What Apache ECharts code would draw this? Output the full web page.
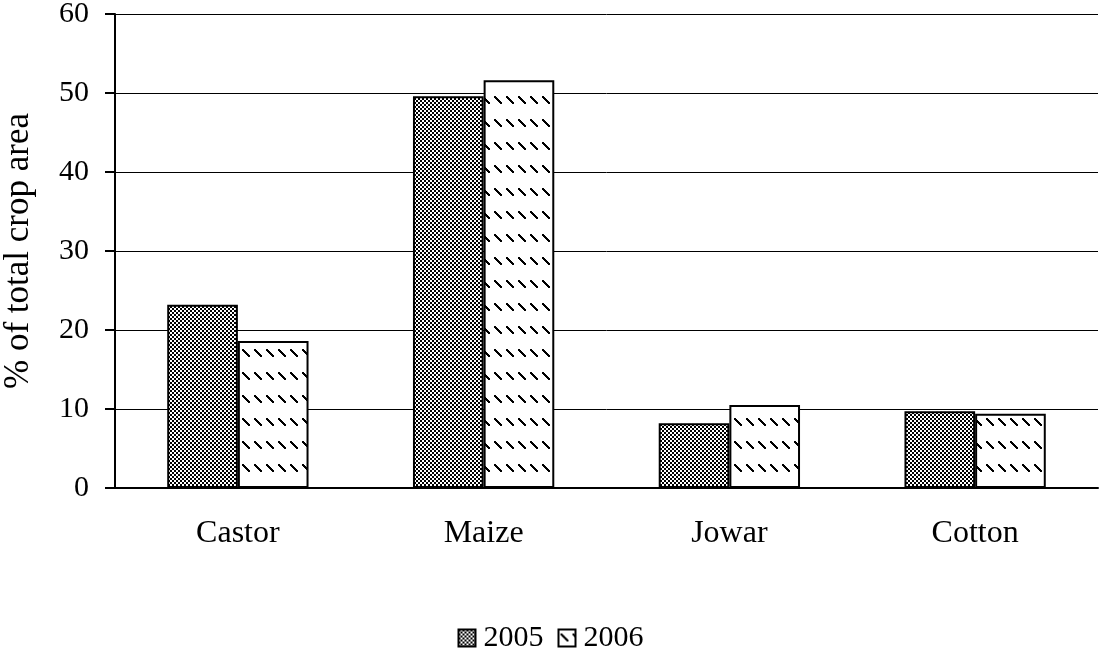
<!DOCTYPE html>
<html><head><meta charset="utf-8">
<script src="https://cdn.jsdelivr.net/npm/echarts@6/dist/echarts.min.js"></script>
<style>html,body{margin:0;padding:0;background:#fff}#c{width:1101px;height:649px}</style>
</head><body><div id="c"></div>
<script>
var categories = ['Castor', 'Maize', 'Jowar', 'Cotton'];
var series2005 = [23.2, 49.6, 8.2, 9.7];
var series2006 = [18.6, 51.6, 10.5, 9.4];
var seriesNames = ['2005', '2006'];

function checker() {
  var c = document.createElement('canvas'); c.width = 4; c.height = 4;
  var g = c.getContext('2d');
  g.fillStyle = '#fff'; g.fillRect(0, 0, 4, 4);
  g.fillStyle = '#000'; g.fillRect(0, 0, 2, 2); g.fillRect(2, 2, 2, 2);
  return c;
}
function dashes() {
  var c = document.createElement('canvas'); c.width = 12; c.height = 23;
  var g = c.getContext('2d');
  g.fillStyle = '#fff'; g.fillRect(0, 0, 12, 23);
  g.fillStyle = '#000';
  for (var i = 0; i < 7; i++) { g.fillRect(2 + i, 4 + i, 2, 2); }
  return c;
}
var font = '"Liberation Serif","Times New Roman",serif';
var chart = echarts.init(document.getElementById('c'));
chart.setOption({
  animation: false,
  backgroundColor: '#fff',
  grid: { left: 115, right: 3, top: 14, bottom: 161, containLabel: false, outerBoundsMode: 'none' },
  legend: {
    top: 618, left: 'center', itemWidth: 17, itemHeight: 17, itemGap: 14,
    icon: 'rect',
    textStyle: { fontFamily: font, fontSize: 30, color: '#000', padding: [0, 0, 0, 3] },
    data: seriesNames
  },
  xAxis: {
    type: 'category', data: categories,
    axisLine: { lineStyle: { color: '#000', width: 2 } },
    axisTick: { length: 8, lineStyle: { color: '#000', width: 2 } },
    axisLabel: { color: '#000', fontFamily: font, fontSize: 32, margin: 30 }
  },
  yAxis: {
    type: 'value', min: 0, max: 60, interval: 10,
    name: '% of total crop area', nameLocation: 'middle', nameGap: 79,
    nameTextStyle: { fontFamily: font, fontSize: 35, color: '#000' },
    axisLine: { show: true, lineStyle: { color: '#000', width: 2 } },
    axisTick: { show: true, length: 10, lineStyle: { color: '#000', width: 2 } },
    axisLabel: { color: '#000', fontFamily: font, fontSize: 30, margin: 26 },
    splitLine: { lineStyle: { color: '#000', width: 1 } }
  },
  series: [
    { name: seriesNames[0], type: 'bar', data: series2005, barGap: '0%', barCategoryGap: '42.5%',
      itemStyle: { color: { image: checker(), repeat: 'repeat' }, borderColor: '#000', borderWidth: 2 } },
    { name: seriesNames[1], type: 'bar', data: series2006,
      itemStyle: { color: { image: dashes(), repeat: 'repeat' }, borderColor: '#000', borderWidth: 2 } }
  ]
});
</script></body></html>
